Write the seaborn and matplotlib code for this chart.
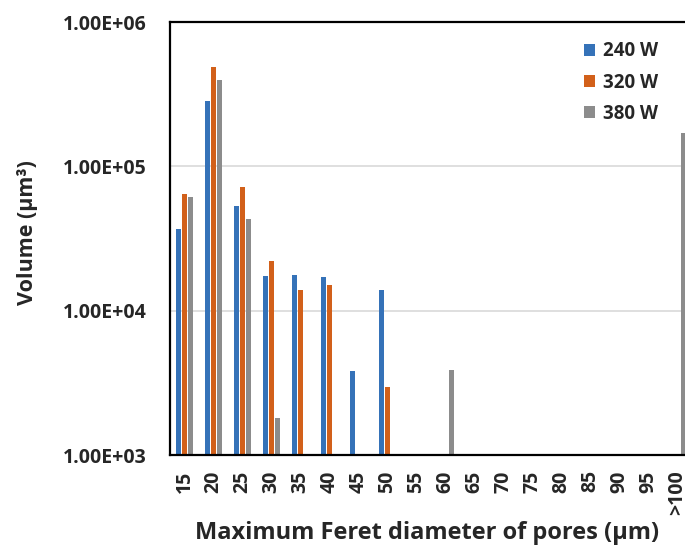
import numpy as np
import pandas as pd
import matplotlib
matplotlib.use("Agg")
import matplotlib.pyplot as plt
from matplotlib.ticker import FuncFormatter, FixedLocator, NullLocator
import seaborn as sns

# pore size classes (µm)
sizes = ["15", "20", "25", "30", "35", "40", "45", "50", "55", "60",
         "65", "70", "75", "80", "85", "90", "95", ">100"]

# pore volume per class (µm^3), NaN = no pores in that class
vol_240 = [3.7e4, 2.84e5, 5.35e4, 1.75e4, 1.76e4, 1.70e4, 3.8e3, 1.38e4, np.nan, np.nan,
           np.nan, np.nan, np.nan, np.nan, np.nan, np.nan, np.nan, np.nan]
vol_320 = [6.4e4, 4.85e5, 7.2e4, 2.2e4, 1.4e4, 1.5e4, np.nan, 2.95e3, np.nan, np.nan,
           np.nan, np.nan, np.nan, np.nan, np.nan, np.nan, np.nan, np.nan]
vol_380 = [6.15e4, 3.98e5, 4.33e4, 1.8e3, np.nan, np.nan, np.nan, np.nan, np.nan, 3.9e3,
           np.nan, np.nan, np.nan, np.nan, np.nan, np.nan, np.nan, 1.7e5]

powers = ["240 W", "320 W", "380 W"]
colors = ["#3572B8", "#D2601A", "#8C8C8C"]

df = pd.DataFrame({
    "size": sizes * 3,
    "power": np.repeat(powers, len(sizes)),
    "volume": vol_240 + vol_320 + vol_380,
}).dropna()

sns.set_style("white")
plt.rcParams["font.family"] = ["Open Sans", "DejaVu Sans"]
plt.rcParams["font.weight"] = "bold"

fig = plt.figure(figsize=(6.85, 5.46), dpi=100)
# axes runs past the right edge, as in the cropped original
ax = fig.add_axes([170 / 685, 1 - 455 / 546, 522 / 685, 433 / 546])

sns.barplot(
    data=df, x="size", y="volume", hue="power",
    order=sizes, hue_order=powers, palette=colors,
    width=0.66, gap=0.2, linewidth=0, saturation=1, ax=ax
)
ax.set_yscale("log")

ax.set_ylim(1e3, 1e6)
ax.yaxis.set_major_locator(FixedLocator([1e3, 1e4, 1e5, 1e6]))
ax.yaxis.set_minor_locator(NullLocator())
ax.yaxis.set_major_formatter(FuncFormatter(lambda v, p: f"{v:.2E}"))
ax.grid(axis="y", color="#D9D9D9", linewidth=1.2)
ax.set_axisbelow(True)

ax.tick_params(axis="y", length=0, pad=17, labelsize=14)
ax.tick_params(axis="x", length=0, pad=11, labelsize=14, rotation=90)
for lab in ax.get_xticklabels() + ax.get_yticklabels():
    lab.set_fontweight("bold")

for side in ["left", "bottom", "top", "right"]:
    ax.spines[side].set_visible(True)
    ax.spines[side].set_color("black")
    ax.spines[side].set_linewidth(1.6)

ax.set_xlabel("Maximum Feret diameter of pores (µm)", fontsize=17, fontweight="bold")
ax.xaxis.label.set_va("baseline")
ax.xaxis.set_label_coords((427 - 170) / 522, -(539 - 455) / 433)

ax.set_ylabel("Volume (µm³)", fontsize=15.5, fontweight="bold")
ax.yaxis.label.set_va("baseline")
ax.yaxis.set_label_coords(-(170 - 33) / 522, (455 - 233) / 433)

ax.legend(
    loc="upper left", bbox_to_anchor=(576 / 685, 1 - 34 / 546),
    bbox_transform=fig.transFigure, frameon=False,
    handlelength=0.6, handleheight=0.6,
    handletextpad=0.45, labelspacing=0.6, borderaxespad=0,
    prop={"weight": "bold", "size": 13.5}
)

fig.savefig("out.png", dpi=100)
